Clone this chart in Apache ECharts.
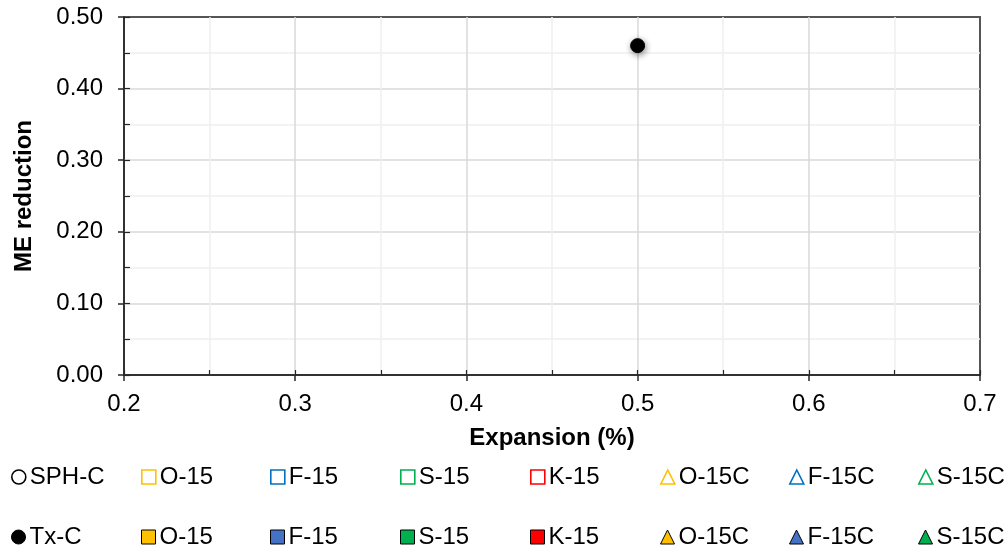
<!DOCTYPE html>
<html>
<head>
<meta charset="utf-8">
<script src="https://cdn.jsdelivr.net/npm/echarts@6/dist/echarts.min.js"></script>
<style>
  html, body { margin: 0; padding: 0; background: #fff; }
  #chart { width: 1008px; height: 550px; }
</style>
</head>
<body>
<div id="chart"></div>
<script>
// Axis ranges and tick steps
const xRange = [0.2, 0.7];
const yRange = [0.0, 0.5];
const xStep = 0.1;
const yStep = 0.1;

// Legend entries (two rows: open markers, filled markers)
const legendRowOpen = ['SPH-C', 'O-15', 'F-15', 'S-15', 'K-15', 'O-15C', 'F-15C', 'S-15C'];
const legendRowFilled = ['Tx-C', 'O-15', 'F-15', 'S-15', 'K-15', 'O-15C', 'F-15C', 'S-15C'];

// Measured points per series: [expansion %, ME reduction]
const sphC = [];
const o15Open = [];
const f15Open = [];
const s15Open = [];
const k15Open = [];
const o15cOpen = [];
const f15cOpen = [];
const s15cOpen = [];
const txC = [[0.5, 0.46]];
const o15Filled = [];
const f15Filled = [];
const s15Filled = [];
const k15Filled = [];
const o15cFilled = [];
const f15cFilled = [];
const s15cFilled = [];

const openData = [sphC, o15Open, f15Open, s15Open, k15Open, o15cOpen, f15cOpen, s15cOpen];
const filledData = [txC, o15Filled, f15Filled, s15Filled, k15Filled, o15cFilled, f15cFilled, s15cFilled];

// Marker styling per column
const shapes = ['circle', 'rect', 'rect', 'rect', 'rect', 'triangle', 'triangle', 'triangle'];
const openColors = ['#000000', '#FFC000', '#0070C0', '#00B050', '#FF0000', '#FFC000', '#0070C0', '#00B050'];
const fillColors = ['#000000', '#FFC000', '#4472C4', '#00B050', '#FF0000', '#FFC000', '#4472C4', '#00B050'];

const FONT = '"Liberation Sans", Arial, sans-serif';
const colLeft = [11, 141, 270, 400, 530, 660, 789, 918];
const rowTop = [465, 525];

const series = [];
const legends = [];

function addEntry(label, key, data, shape, style, row, col) {
  series.push({
    name: key,
    type: 'scatter',
    xAxisIndex: 0,
    yAxisIndex: 0,
    symbol: shape,
    symbolSize: 14,
    data: data,
    itemStyle: Object.assign({}, style, {
      shadowBlur: 6,
      shadowColor: 'rgba(0,0,0,0.45)',
      shadowOffsetX: 1,
      shadowOffsetY: 2
    }),
    emphasis: { disabled: true }
  });
  legends.push({
    left: colLeft[col],
    top: rowTop[row],
    padding: 0,
    itemWidth: 14,
    itemHeight: 14,
    itemGap: 0,
    selectedMode: false,
    formatter: () => label,
    textStyle: { fontFamily: FONT, fontSize: 24, color: '#000', padding: [0, 0, 0, -1] },
    data: [{ name: key, icon: shape, itemStyle: style }]
  });
}

legendRowOpen.forEach((label, i) => {
  addEntry(label, label + ' (open)', openData[i], shapes[i],
    { color: '#ffffff', borderColor: openColors[i], borderWidth: 1.6, opacity: 1 }, 0, i);
});
legendRowFilled.forEach((label, i) => {
  addEntry(label, label + ' (filled)', filledData[i], shapes[i],
    { color: fillColors[i], borderColor: '#000000', borderWidth: 1, opacity: 1 }, 1, i);
});

const axisLabelStyle = { fontFamily: FONT, fontSize: 24, color: '#000' };
const axisNameStyle = { fontFamily: FONT, fontSize: 24, fontWeight: 'bold', color: '#000' };

const option = {
  backgroundColor: '#ffffff',
  animation: false,
  grid: {
    left: 124, right: 28, top: 17, bottom: 175,
    show: true,
    borderColor: '#555555',
    borderWidth: 2,
    backgroundColor: 'transparent'
  },
  legend: legends,
  xAxis: [
    {
      type: 'value',
      min: xRange[0], max: xRange[1], interval: xStep,
      name: 'Expansion (%)',
      nameLocation: 'middle',
      nameGap: 51,
      nameTextStyle: axisNameStyle,
      axisLine: { show: true, onZero: false, lineStyle: { color: '#262626', width: 1.5 } },
      axisTick: { show: true, inside: false, length: 6, lineStyle: { color: '#262626', width: 1.5 } },
      axisLabel: Object.assign({ margin: 17, formatter: v => v.toFixed(1) }, axisLabelStyle),
      splitLine: { show: true, showMinLine: false, showMaxLine: false, lineStyle: { color: '#d9d9d9', width: 1.5 } },
      minorTick: { show: false, splitNumber: 2 },
      minorSplitLine: { show: true, lineStyle: { color: '#f0f0f0', width: 1.5 } }
    },
    {
      // inner half of the ticks, every 0.05
      type: 'value',
      position: 'bottom',
      min: xRange[0], max: xRange[1], interval: xStep / 2,
      axisLine: { show: false, onZero: false },
      axisTick: { show: true, inside: true, length: 5, lineStyle: { color: '#262626', width: 1.2 } },
      axisLabel: { show: false },
      splitLine: { show: false }
    }
  ],
  yAxis: [
    {
      type: 'value',
      min: yRange[0], max: yRange[1], interval: yStep,
      name: 'ME reduction',
      nameLocation: 'middle',
      nameGap: 88,
      nameTextStyle: axisNameStyle,
      axisLine: { show: true, onZero: false, lineStyle: { color: '#262626', width: 1.5 } },
      axisTick: { show: true, inside: false, length: 6, lineStyle: { color: '#262626', width: 1.5 } },
      axisLabel: Object.assign({ margin: 21, formatter: v => v.toFixed(2) }, axisLabelStyle),
      splitLine: { show: true, showMinLine: false, showMaxLine: false, lineStyle: { color: '#d9d9d9', width: 1.5 } },
      minorTick: { show: false, splitNumber: 2 },
      minorSplitLine: { show: true, lineStyle: { color: '#f0f0f0', width: 1.5 } }
    },
    {
      type: 'value',
      position: 'left',
      min: yRange[0], max: yRange[1], interval: yStep / 2,
      axisLine: { show: false, onZero: false },
      axisTick: { show: true, inside: true, length: 6, lineStyle: { color: '#262626', width: 1.2 } },
      axisLabel: { show: false },
      splitLine: { show: false }
    }
  ],
  series: series
};

const chart = echarts.init(document.getElementById('chart'), null, { renderer: 'canvas' });
chart.setOption(option);
</script>
</body>
</html>
